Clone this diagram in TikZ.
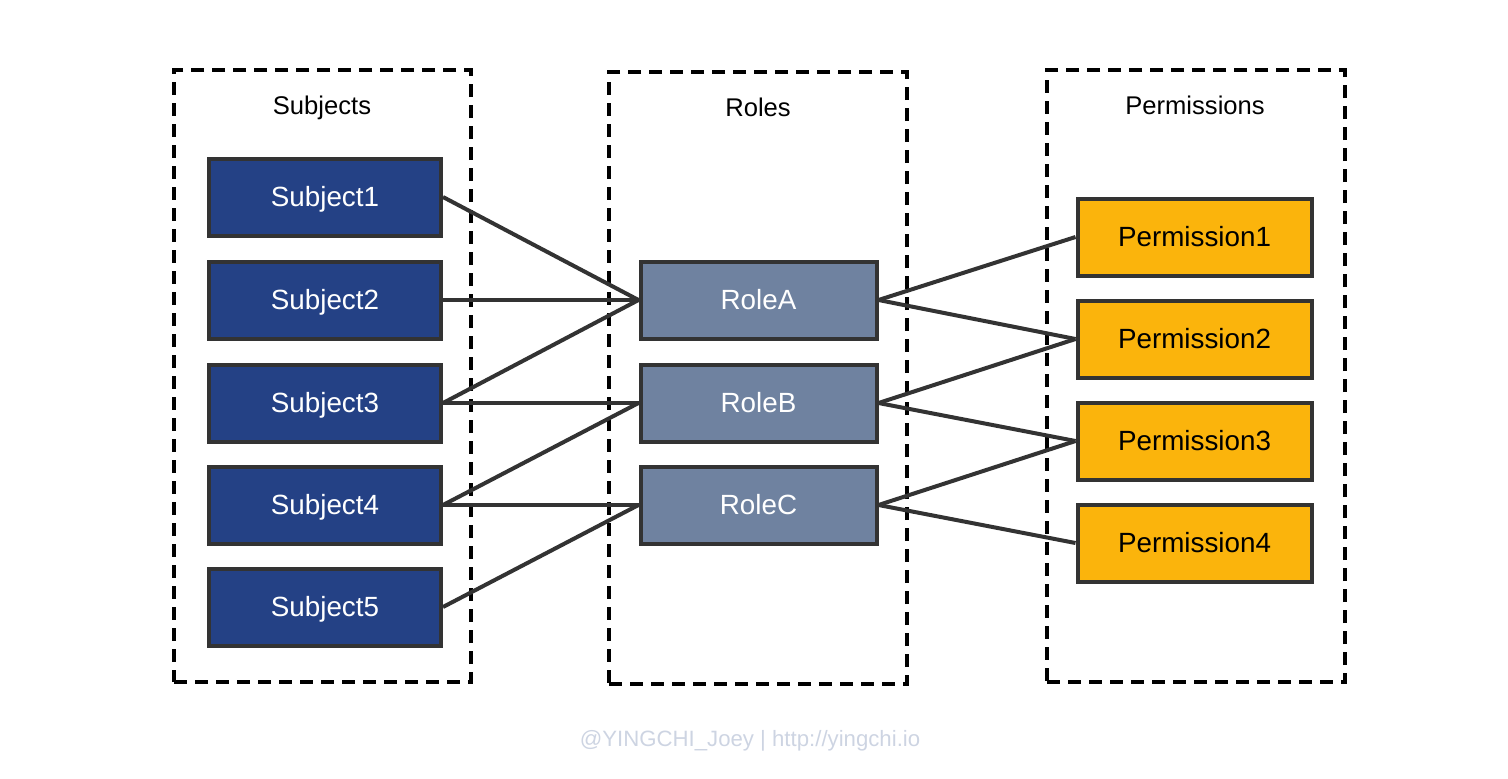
\documentclass[tikz,border=0pt]{standalone}
\usepackage{fontspec}
\setmainfont{Liberation Sans}
\definecolor{subjblue}{HTML}{244185}
\definecolor{rolegray}{HTML}{6F82A0}
\definecolor{permyel}{HTML}{FBB40C}
\definecolor{edgegray}{HTML}{333333}
\definecolor{wmark}{HTML}{CDD4E2}
\tikzset{
  group/.style={draw=black, line width=2pt, dash pattern=on 6.5pt off 4pt},
  title/.style={font=\fontsize{12.8pt}{14pt}\selectfont, text=black, text height=9.17pt, text depth=0pt, inner sep=0pt},
  box/.style={draw=edgegray, line width=2pt, minimum width=116pt, minimum height=38.5pt, inner sep=0pt, text height=9.95pt, text depth=0pt, font=\fontsize{13.9pt}{16pt}\selectfont},
  subj/.style={box, fill=subjblue, text=white},
  role/.style={box, fill=rolegray, text=white, minimum width=118pt},
  perm/.style={box, fill=permyel, text=black, minimum width=117pt},
  link/.style={draw=edgegray, line width=2pt},
}
\begin{document}
\begin{tikzpicture}[x=0.5pt, y=-0.5pt]
\useasboundingbox (0,0) rectangle (1508,778);
% groups
\node[group, minimum width=148.5pt, minimum height=306pt, inner sep=0pt] (gS) at (322.5,376) {};
\node[group, minimum width=149pt, minimum height=306pt, inner sep=0pt] (gR) at (758,378) {};
\node[group, minimum width=149pt, minimum height=306pt, inner sep=0pt] (gP) at (1196,376) {};
\node[title] (tS) at (322,105.5) {Subjects};
\node[title] (tR) at (758,107.5) {Roles};
\node[title] (tP) at (1195,105.5) {Permissions};
% subjects
\node[subj] (s1) at (325,197) {Subject1};
\node[subj] (s2) at (325,300) {Subject2};
\node[subj] (s3) at (325,403) {Subject3};
\node[subj] (s4) at (325,505) {Subject4};
\node[subj] (s5) at (325,607) {Subject5};
% roles
\node[role] (rA) at (758.5,300) {RoleA};
\node[role] (rB) at (758.5,403) {RoleB};
\node[role] (rC) at (758.5,505) {RoleC};
% permissions
\node[perm] (p1) at (1194.5,237) {Permission1};
\node[perm] (p2) at (1194.5,339) {Permission2};
\node[perm] (p3) at (1194.5,441) {Permission3};
\node[perm] (p4) at (1194.5,543) {Permission4};
% links
\draw[link] (s1.east) -- (rA.west);
\draw[link] (s2.east) -- (rA.west);
\draw[link] (s3.east) -- (rA.west);
\draw[link] (s3.east) -- (rB.west);
\draw[link] (s4.east) -- (rB.west);
\draw[link] (s4.east) -- (rC.west);
\draw[link] (s5.east) -- (rC.west);
\draw[link] (rA.east) -- (p1.west);
\draw[link] (rA.east) -- (p2.west);
\draw[link] (rB.east) -- (p2.west);
\draw[link] (rB.east) -- (p3.west);
\draw[link] (rC.east) -- (p3.west);
\draw[link] (rC.east) -- (p4.west);
% watermark
\node[text=wmark, font=\fontsize{11.1pt}{13pt}\selectfont, text height=8pt, text depth=0pt, inner sep=0pt] (wm) at (750,738) {@YINGCHI\_Joey | http://yingchi.io};
\end{tikzpicture}
\end{document}
